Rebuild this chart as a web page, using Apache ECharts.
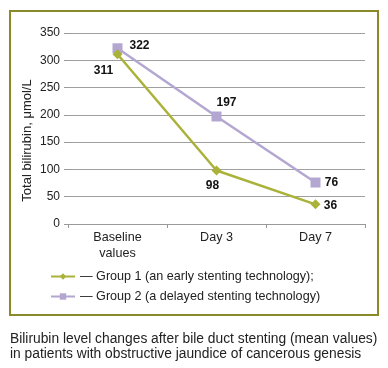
<!DOCTYPE html>
<html><head><meta charset="utf-8">
<script src="https://cdn.jsdelivr.net/npm/echarts@6/dist/echarts.min.js"></script>
<style>html,body{margin:0;padding:0;background:#fff}#c{width:388px;height:368px}</style>
</head><body><div id="c"></div>
<script>
var categories = ['Baseline\nvalues', 'Day 3', 'Day 7'];
var group1 = [311, 98, 36];
var group2 = [322, 197, 76];
var yTicks = [0, 50, 100, 150, 200, 250, 300, 350];
var seriesNames = ['— Group 1 (an early stenting technology);', '— Group 2 (a delayed stenting technology)'];
var yTitle = 'Total bilirubin, μmol/L';
var caption = 'Bilirubin level changes after bile duct stenting (mean values)\nin patients with obstructive jaundice of cancerous genesis';

var g1Label = [{offset:[-14,16]}, {offset:[-4,15]}, {offset:[15,1]}];
var g2Label = [{offset:[22,-3]}, {offset:[10,-14]}, {offset:[16,0]}];

function withLabels(vals, cfg) {
  return vals.map(function (v, i) {
    return {value: v, label: {position: 'inside', offset: cfg[i].offset}};
  });
}
var font = 'Arial, "Liberation Sans", sans-serif';
var chart = echarts.init(document.getElementById('c'));
chart.setOption({
  animation: false,
  textStyle: {fontFamily: font},
  grid: {left: 68, right: 23, top: 33, bottom: 144},
  graphic: [
    {type: 'rect', shape: {x: 10, y: 11, width: 368, height: 304}, style: {fill: 'none', stroke: '#8a8a2a', lineWidth: 2}, z: -1},
    {type: 'text', left: 10, top: 332, style: {text: caption, font: '13.8px ' + font, fill: '#222', lineHeight: 15}}
  ],
  legend: {
    orient: 'vertical', left: 45, top: 265, itemWidth: 24, itemHeight: 8, itemGap: 7,
    textStyle: {fontSize: 12.6, color: '#222', fontFamily: font},
    data: seriesNames
  },
  xAxis: {
    type: 'category', data: categories, boundaryGap: true,
    axisLine: {lineStyle: {color: '#999'}},
    axisTick: {show: true, length: 4, lineStyle: {color: '#999'}},
    axisLabel: {color: '#222', fontSize: 12.6, margin: 6, lineHeight: 16}
  },
  yAxis: {
    type: 'value', min: yTicks[0], max: yTicks[yTicks.length - 1], interval: 50,
    name: yTitle, nameLocation: 'middle', nameGap: 34, nameRotate: 90, nameMoveOverlap: false,
    nameTextStyle: {color: '#222', fontSize: 13, padding: [0, 24, 0, 0]},
    axisLine: {show: false},
    axisTick: {show: true, length: 4, lineStyle: {color: '#999'}},
    splitLine: {lineStyle: {color: '#a0a0a0'}},
    axisLabel: {color: '#222', fontSize: 12, margin: 8}
  },
  series: [
    {
      name: seriesNames[0], type: 'line', data: withLabels(group1, g1Label),
      symbol: 'diamond', symbolSize: 10, color: '#aab23a',
      lineStyle: {width: 2.5, color: '#aab23a'}, itemStyle: {color: '#aab23a'},
      label: {show: true, fontWeight: 'bold', fontSize: 12, color: '#111'}, z: 3
    },
    {
      name: seriesNames[1], type: 'line', data: withLabels(group2, g2Label),
      symbol: 'rect', symbolSize: 10, color: '#b3a7d1',
      lineStyle: {width: 2.5, color: '#b3a7d1'}, itemStyle: {color: '#b3a7d1'},
      label: {show: true, fontWeight: 'bold', fontSize: 12, color: '#111'}, z: 2
    }
  ]
});
</script></body></html>
